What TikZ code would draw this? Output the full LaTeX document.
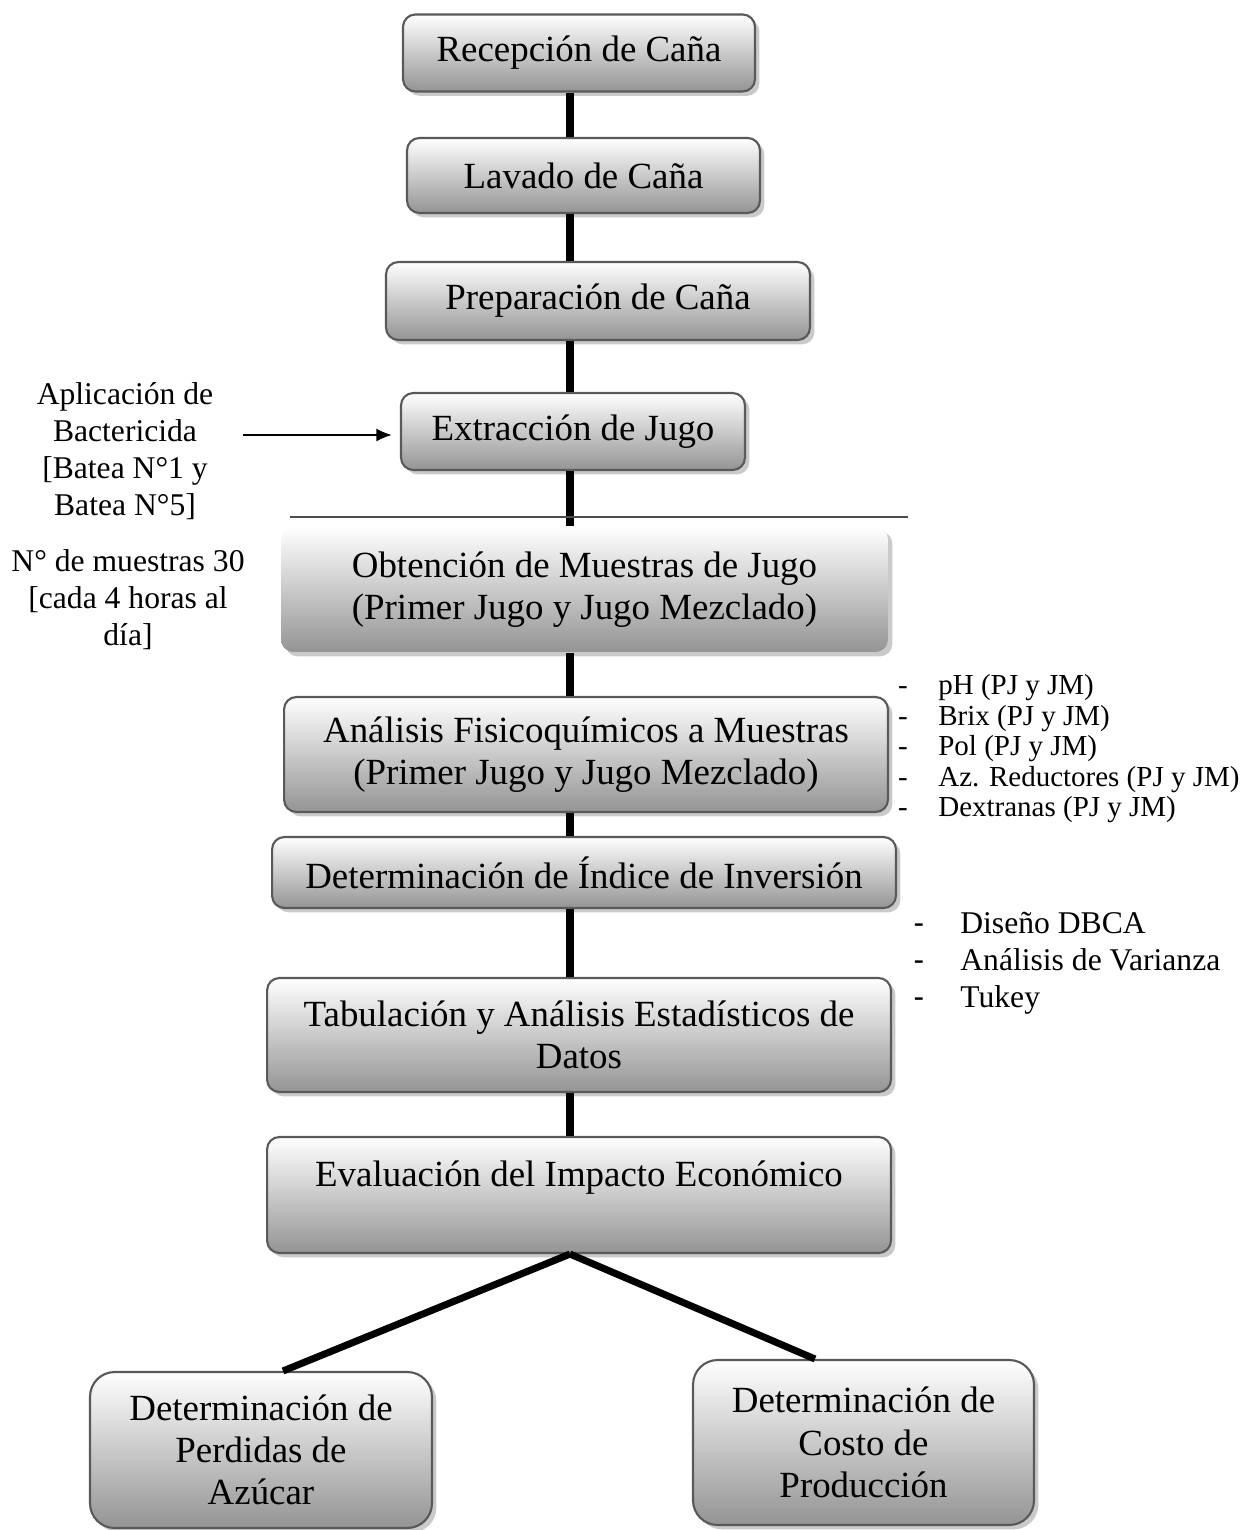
\documentclass[tikz,border=0pt]{standalone}
\usepackage{fontspec}
\setmainfont{Liberation Serif}
\newfontfamily\dashfont{Liberation Sans}
\usetikzlibrary{shadows,arrows.meta}

\newcommand\stagefont{\fontsize{21}{24}\selectfont}
\newcommand\notefont{\fontsize{18}{21}\selectfont}
\newcommand\itemfont{\fontsize{16.5}{18}\selectfont}

\begin{document}
\begin{tikzpicture}[x=0.02cm, y=-0.02cm]
	\useasboundingbox (0,0) rectangle (1243,1530);
	\tikzset{
		stage/.style={rectangle, rounded corners=7pt, draw=black!65, line width=1.2pt, top color=white, bottom color=black!42, drop shadow={shadow xshift=2.5pt, shadow yshift=-2.5pt, fill=black!35, opacity=.6}, align=center, inner sep=0pt, font=\stagefont},
		result/.style={stage, rounded corners=14pt},
		note/.style={align=center, inner sep=0pt, font=\notefont},
		item/.style={anchor=base west, inner sep=0pt, font=\itemfont},
		itemdash/.style={anchor=base, inner sep=0pt, font=\itemfont},
		bigdash/.style={anchor=base, inner sep=0pt, font=\notefont\dashfont},
		bigitem/.style={anchor=base west, inner sep=0pt, font=\notefont},
		link/.style={line width=4pt},
		feed/.style={line width=1.3pt, -{Latex[length=9pt, width=7.5pt]}}
	}
	% etapas del proceso
	\node[stage, minimum width=7.04cm, minimum height=1.54cm] (rec) at (579,53) {Recepción de Caña};
	\node[stage, minimum width=7.06cm, minimum height=1.50cm] (lav) at (583.5,175.5) {Lavado de Caña};
	\node[stage, minimum width=8.48cm, minimum height=1.56cm] (pre) at (598,301) {Preparación de Caña};
	\node[stage, minimum width=6.88cm, minimum height=1.54cm] (ext) at (573,431.5) {Extracción de Jugo};
	\node[stage, draw=none, minimum width=12.14cm, minimum height=2.50cm] (obt) at (584.5,589.5) {Obtención de Muestras de Jugo\\(Primer Jugo y Jugo Mezclado)};
	\node[stage, minimum width=12.08cm, minimum height=2.30cm] (ana) at (586,754.5) {Análisis Fisicoquímicos a Muestras\\(Primer Jugo y Jugo Mezclado)};
	\node[stage, minimum width=12.48cm, minimum height=1.42cm] (ind) at (584,872.5) {Determinación de Índice de Inversión};
	\node[stage, minimum width=12.48cm, minimum height=2.28cm] (tab) at (579,1035) {Tabulación y Análisis Estadísticos de\\Datos};
	\node[stage, minimum width=12.48cm, minimum height=2.32cm, text depth=24pt] (eva) at (579,1195) {Evaluación del Impacto Económico};
	\node[result, minimum width=6.84cm, minimum height=3.12cm] (per) at (261,1450) {Determinación de\\Perdidas de\\Azúcar};
	\node[result, minimum width=6.82cm, minimum height=3.30cm] (cos) at (863.5,1442.5) {Determinación de\\Costo de\\Producción};

	% conectores
	\coordinate (sp) at (570,0);
	\draw[link] (rec.south -| sp) -- (lav.north -| sp);
	\draw[link] (lav.south -| sp) -- (pre.north -| sp);
	\draw[link] (pre.south -| sp) -- (ext.north -| sp);
	\draw[link] (ext.south -| sp) -- (obt.north -| sp);
	\draw[link] (obt.south -| sp) -- (ana.north -| sp);
	\draw[link] (ana.south -| sp) -- (ind.north -| sp);
	\draw[link] (ind.south -| sp) -- (tab.north -| sp);
	\draw[link] (tab.south -| sp) -- (eva.north -| sp);
	\draw[link] (eva.south -| sp) -- ([xshift=0.44cm]per.north);
	\draw[link] (eva.south -| sp) -- ([xshift=-0.97cm]cos.north);
	\draw[black!70, line width=1pt] (290,517) -- (908,517);

	% notas de la izquierda
	\node[note] (bact) at (125,451) {Aplicación de\\Bactericida\\{}[Batea N°1 y\\Batea N°5]};
	\node[note] (mues) at (128,600) {N° de muestras 30\\{}[cada 4 horas al\\día]};
	\coordinate (bact-tail) at (243,435);
	\draw[feed, shorten >=4.5pt] (bact-tail) -- (ext.west |- bact-tail);

	% analisis
	\node[itemdash] (d1) at (903,694) {-};
	\node[item] (i1) at (938,694) {pH (PJ y JM)};
	\node[itemdash] (d2) at (903,725) {-};
	\node[item] (i2) at (938,725) {Brix (PJ y JM)};
	\node[itemdash] (d3) at (903,755) {-};
	\node[item] (i3) at (938,755) {Pol (PJ y JM)};
	\node[itemdash] (d4) at (903,786) {-};
	\node[item] (i4) at (938,786) {Az. Reductores (PJ y JM)};
	\node[itemdash] (d5) at (903,816) {-};
	\node[item] (i5) at (938,816) {Dextranas (PJ y JM)};

	% estadistica
	\node[bigdash] (e1) at (919,933) {-};
	\node[bigitem] (s1) at (960,933) {Diseño DBCA};
	\node[bigdash] (e2) at (919,970) {-};
	\node[bigitem] (s2) at (960,970) {Análisis de Varianza};
	\node[bigdash] (e3) at (919,1007) {-};
	\node[bigitem] (s3) at (960,1007) {Tukey};
\end{tikzpicture}
\end{document}
